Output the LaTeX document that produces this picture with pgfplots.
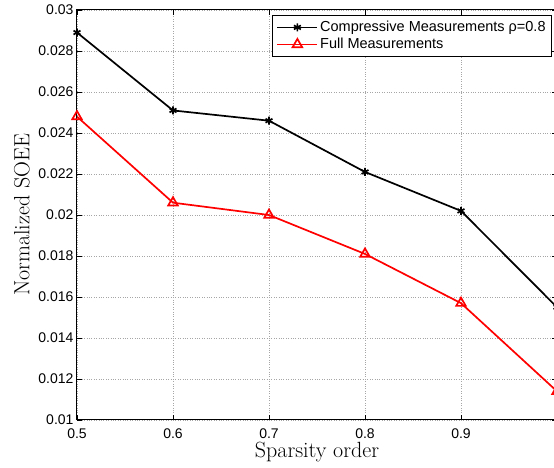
\documentclass[border=0pt]{standalone}
\usepackage{pgfplots}
\pgfplotsset{compat=1.18}
\usepackage{fontspec}
\newfontfamily\arial{Liberation Sans}
\begin{document}
\begin{tikzpicture}
\begin{axis}[
  scale only axis,
  width=480pt, height=410pt,
  xmin=0.5, xmax=1, ymin=0.01, ymax=0.03,
  xtick={0.5,0.6,0.7,0.8,0.9,1},
  xticklabels={0.5,0.6,0.7,0.8,0.9,},
  ytick={0.01,0.012,0.014,0.016,0.018,0.02,0.022,0.024,0.026,0.028,0.03},
  yticklabel style={/pgf/number format/fixed,/pgf/number format/precision=3},
  scaled y ticks=false,
  /pgf/number format/assume math mode=true,
  tick label style={font=\arial\fontsize{14}{16}\selectfont},
  xticklabel style={yshift=-5pt},
  tick align=inside,
  major tick length=5pt,
  tick style={black, line width=0.6pt},
  axis line style={line width=1pt},
  grid=major,
  grid style={dotted, gray!70, line width=0.7pt},
  xlabel={Sparsity order},
  ylabel={Normalized SOEE},
  label style={font=\fontsize{22}{26}\selectfont},
  xlabel style={at={(axis description cs:0.5,-0.078)}, anchor=center},
  ylabel style={at={(axis description cs:-0.115,0.5)}, anchor=center},
  legend style={at={(1,1)}, anchor=north east, xshift=-5pt, yshift=-5pt,
    font=\arial\fontsize{14.5}{17}\selectfont, draw=black, line width=0.8pt,
    row sep=1pt, inner sep=4pt, cells={anchor=west}},
  legend cell align=left,
  legend image code/.code={
    \draw[#1] (0cm,0cm) -- (1.4cm,0cm);
    \draw[#1, only marks] plot coordinates {(0.7cm,0cm)};},
]
\addplot[black, line width=1.7pt, mark=asterisk, mark size=4pt, mark options={line width=1.7pt}]
  coordinates {(0.5,0.0289) (0.6,0.0251) (0.7,0.0246) (0.8,0.0221) (0.9,0.0202) (1.0,0.0155)};
\addlegendentry{Compressive Measurements ρ=0.8}
\addplot[red, line width=1.7pt, mark=triangle, mark size=5.5pt, mark options={line width=1.7pt}]
  coordinates {(0.5,0.0248) (0.6,0.0206) (0.7,0.0200) (0.8,0.0181) (0.9,0.0157) (1.0,0.0114)};
\addlegendentry{Full Measurements}
\end{axis}
\pgfresetboundingbox
\path (-77pt,-48pt) rectangle (477pt,420pt);
\end{tikzpicture}
\end{document}
